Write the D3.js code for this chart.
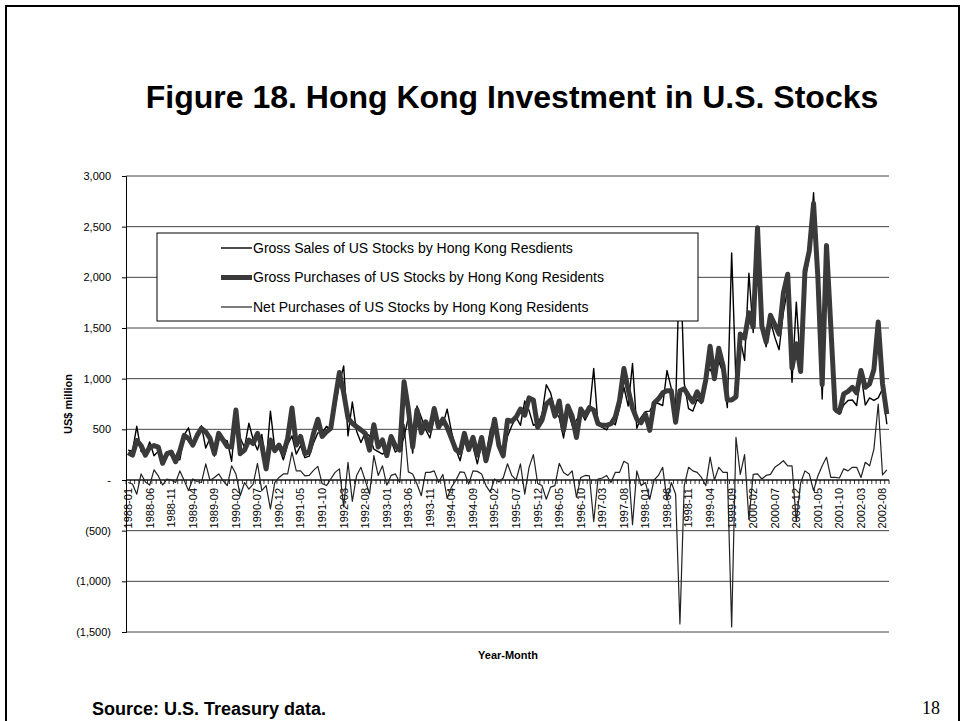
<!DOCTYPE html>
<html>
<head>
<meta charset="utf-8">
<script src="https://cdn.jsdelivr.net/npm/d3@7"></script>
<style>
  body { margin: 0; background: #fff; }
  text { font-family: "Liberation Sans", Arial, sans-serif; }
</style>
</head>
<body>
<div id="chart"></div>
<script>
// monthly categories 1988-01 .. 2002-09
const startYear = 1988;
const monthCount = 177;
const months = [];
for (let i = 0; i < monthCount; i++) {
    const y = startYear + Math.floor(i / 12);
    const m = (i % 12) + 1;
    months.push(`${y}-${m < 10 ? "0" + m : m}`);
}

const tickLabels = [
    "1988-01", "1988-06", "1988-11", "1989-04", "1989-09", "1990-02", "1990-07", "1990-12",
    "1991-05", "1991-10", "1992-03", "1992-08", "1993-01", "1993-06", "1993-11", "1994-04",
    "1994-09", "1995-02", "1995-07", "1995-12", "1996-05", "1996-10", "1997-03", "1997-08",
    "1998-01", "1998-06", "1998-11", "1999-04", "1999-09", "2000-02", "2000-07", "2000-12",
    "2001-05", "2001-10", "2002-03", "2002-08"
];

const yTicks = [-1500, -1000, -500, 0, 500, 1000, 1500, 2000, 2500, 3000];

// US$ million
const grossSales = [
    295, 285, 530, 280, 265, 375, 240, 285, 215, 250,
    275, 205, 200, 445, 515, 335, 455, 535, 315, 415,
    235, 400, 400, 385, 185, 630, 415, 320, 560, 400,
    295, 450, 165, 680, 315, 320, 200, 350, 435, 255,
    340, 220, 235, 365, 465, 465, 530, 500, 715, 950,
    1125, 435, 770, 480, 370, 465, 435, 305, 280, 255,
    290, 385, 275, 320, 420, 620, 265, 730, 620, 500,
    415, 615, 545, 545, 700, 480, 305, 190, 385, 340,
    330, 160, 360, 245, 490, 590, 360, 220, 430, 535,
    620, 540, 780, 685, 540, 555, 645, 940, 860, 685,
    615, 415, 685, 540, 590, 675, 590, 675, 1100, 545,
    520, 495, 580, 545, 710, 915, 730, 1150, 510, 620,
    675, 680, 760, 755, 735, 1080, 905, 710, 2300, 955,
    705, 680, 795, 755, 1045, 1095, 1000, 1175, 1055, 715,
    2240, 960, 1385, 1180, 2040, 1455, 2430, 1510, 1315, 1570,
    1410, 1285, 1655, 1890, 965, 1755, 1100, 1970, 2200, 2835,
    1960, 800, 2090, 1490, 675, 650, 740, 785, 790, 735,
    1055, 740, 810, 785, 810, 900, 550
];

const grossPurchases = [
    270, 245, 390, 340, 245, 325, 340, 325, 165, 260,
    275, 180, 290, 440, 410, 345, 440, 510, 475, 410,
    260, 460, 395, 330, 325, 690, 260, 295, 395, 360,
    460, 345, 110, 395, 290, 345, 260, 410, 710, 345,
    430, 260, 280, 460, 600, 430, 475, 510, 790, 1060,
    860, 610, 560, 525, 495, 460, 295, 545, 325, 395,
    240, 430, 335, 295, 970, 700, 325, 690, 465, 575,
    490, 705, 520, 600, 520, 410, 300, 270, 460, 300,
    420, 245, 420, 190, 370, 600, 340, 240, 590, 580,
    620, 700, 640, 810, 790, 520, 590, 750, 790, 630,
    780, 490, 730, 630, 420, 700, 635, 715, 690, 555,
    540, 540, 555, 620, 785, 1100, 890, 710, 600, 565,
    650, 490, 760, 800, 860, 880, 880, 570, 880, 900,
    830, 770, 870, 780, 990, 1320, 1000, 1300, 1130, 790,
    790, 820, 1440, 1400, 1650, 1510, 2490, 1520, 1360, 1625,
    1535, 1440, 1845, 2030, 1105, 1345, 1070, 2060, 2260, 2730,
    2000, 940, 2315, 1515, 700, 670, 850, 875, 915, 860,
    1080, 915, 950, 1090, 1560, 950, 650
];

const netPurchases = [
    -25, -40, -140, 60, -20, -50, 100, 40, -50, 10,
    0, -25, 90, -5, -105, 10, -15, -25, 160, -5,
    25, 60, -5, -55, 140, 60, -155, -25, -90, -40,
    165, -105, -55, -285, -25, 25, 60, 60, 275, 90,
    90, 40, 45, 95, 135, -35, -55, 10, 75, 110,
    -265, 175, -210, 45, 125, -5, -140, 240, 45, 140,
    -50, 45, 60, -25, 550, 80, 60, -40, -155, 75,
    75, 90, -25, 55, -180, -70, -5, 80, 75, -40,
    90, 85, 60, -55, -120, 10, -20, 20, 160, 45,
    0, 160, -140, 125, 250, -35, -55, -190, -70, -55,
    165, 75, 45, 90, -170, 25, 45, 40, -410, 10,
    20, 45, -25, 75, 75, 185, 160, -440, 90, -55,
    -25, -190, 0, 45, 125, -200, -25, -140, -1420, -55,
    125, 90, 75, 25, -55, 225, 0, 125, 75, 75,
    -1450, 420, 55, 250, -390, 55, 60, 10, 45, 55,
    125, 155, 190, 140, 140, -410, -30, 90, 60, -105,
    40, 140, 225, 25, 25, 20, 110, 90, 125, 125,
    25, 175, 140, 305, 750, 50, 100
];

const seriesNames = [
    "Gross Sales of US Stocks by Hong Kong Resdients",
    "Gross Purchases of US Stocks by Hong Kong Residents",
    "Net Purchases of US Stocks by Hong Kong Residents"
];

const W = 965, H = 721;
const plot = { left: 126, right: 889, top: 176, bottom: 632 };

const series = [
    { name: seriesNames[0], values: grossSales, color: "#000", width: 1.4 },
    { name: seriesNames[1], values: grossPurchases, color: "#3a3a3a", width: 5 },
    { name: seriesNames[2], values: netPurchases, color: "#222", width: 1.2 }
];

const svg = d3.select("#chart")
    .append("svg")
    .attr("width", W)
    .attr("height", H);

// slide frame
svg.append("rect")
    .attr("x", 6).attr("y", 6)
    .attr("width", 953).attr("height", 740)
    .attr("fill", "none")
    .attr("stroke", "#000")
    .attr("stroke-width", 2);

svg.append("text")
    .attr("x", 512).attr("y", 108)
    .attr("text-anchor", "middle")
    .style("font-size", "32px")
    .style("font-weight", "bold")
    .text("Figure 18. Hong Kong Investment in U.S. Stocks");

const x = d3.scaleBand()
    .domain(months)
    .range([plot.left, plot.right])
    .padding(0);

const y = d3.scaleLinear()
    .domain([-1500, 3000])
    .range([plot.bottom, plot.top]);

const cx = d => x(d) + x.bandwidth() / 2;

// gridlines
svg.append("g")
    .selectAll("line")
    .data(yTicks)
    .enter().append("line")
    .attr("x1", plot.left).attr("x2", plot.right)
    .attr("y1", d => y(d)).attr("y2", d => y(d))
    .attr("stroke", "#444")
    .attr("stroke-width", 1);

const fmt = v => {
    if (v === 0) return "-";
    const s = d3.format(",")(Math.abs(v));
    return v < 0 ? `(${s})` : s;
};

const yAxis = svg.append("g")
    .attr("transform", `translate(${plot.left},0)`)
    .call(d3.axisLeft(y).tickValues(yTicks).tickSize(4).tickPadding(11).tickFormat(fmt));
yAxis.select(".domain").attr("stroke", "#000");
yAxis.selectAll("text").style("font-size", "11px").attr("fill", "#000");

// category axis on zero line
const xAxis = svg.append("g");
xAxis.append("line")
    .attr("x1", plot.left).attr("x2", plot.right)
    .attr("y1", y(0)).attr("y2", y(0))
    .attr("stroke", "#000");
xAxis.selectAll(".tick")
    .data(months.concat([null]))
    .enter().append("line")
    .attr("class", "tick")
    .attr("x1", (d, i) => plot.left + i * x.bandwidth())
    .attr("x2", (d, i) => plot.left + i * x.bandwidth())
    .attr("y1", y(0)).attr("y2", y(0) + 4)
    .attr("stroke", "#000")
    .attr("stroke-width", 0.8);
xAxis.selectAll(".lbl")
    .data(tickLabels)
    .enter().append("text")
    .attr("class", "lbl")
    .attr("transform", d => `translate(${cx(d)},${y(0) + 8}) rotate(-90)`)
    .attr("text-anchor", "end")
    .attr("dy", "0.35em")
    .style("font-size", "11px")
    .text(d => d);

const line = d3.line()
    .x((d, i) => cx(months[i]))
    .y(d => y(d));

svg.append("g")
    .selectAll("path")
    .data(series)
    .enter().append("path")
    .attr("d", d => line(d.values))
    .attr("fill", "none")
    .attr("stroke", d => d.color)
    .attr("stroke-width", d => d.width)
    .attr("stroke-linejoin", "round");

// legend
const legend = svg.append("g");
legend.append("rect")
    .attr("x", 157).attr("y", 233)
    .attr("width", 541).attr("height", 88)
    .attr("fill", "#fff")
    .attr("stroke", "#000");
const items = legend.selectAll(".item")
    .data(series)
    .enter().append("g")
    .attr("class", "item")
    .attr("transform", (d, i) => `translate(221,${248 + i * 29.5})`);
items.append("line")
    .attr("x1", 0).attr("x2", 31)
    .attr("stroke", d => d.color)
    .attr("stroke-width", d => d.width);
items.append("text")
    .attr("x", 32)
    .attr("dy", "0.35em")
    .style("font-size", "14px")
    .text(d => d.name);

svg.append("text")
    .attr("transform", "translate(72,404) rotate(-90)")
    .attr("text-anchor", "middle")
    .style("font-size", "11px")
    .style("font-weight", "bold")
    .text("US$ million");

svg.append("text")
    .attr("x", 508).attr("y", 659)
    .attr("text-anchor", "middle")
    .style("font-size", "11px")
    .style("font-weight", "bold")
    .text("Year-Month");

svg.append("text")
    .attr("x", 92).attr("y", 715)
    .style("font-size", "18px")
    .style("font-weight", "bold")
    .text("Source: U.S. Treasury data.");

svg.append("text")
    .attr("x", 940).attr("y", 714)
    .attr("text-anchor", "end")
    .style("font-family", "'Liberation Serif', 'Times New Roman', serif")
    .style("font-size", "18px")
    .text("18");
</script>
</body>
</html>
